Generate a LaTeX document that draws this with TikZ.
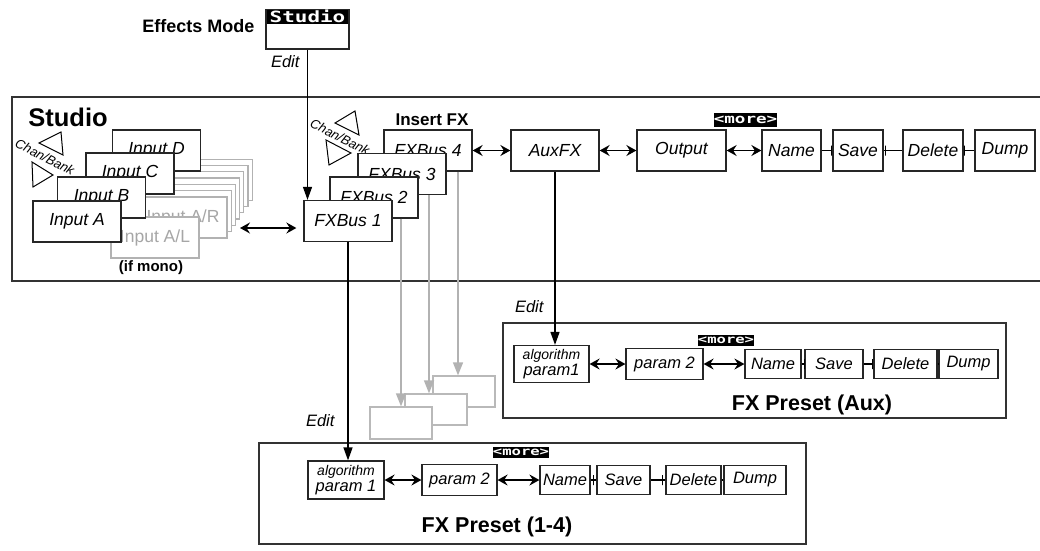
\documentclass[tikz,border=0pt]{standalone}
\usepackage{fontspec}
\setmainfont{Liberation Sans}
\newfontfamily\lcdfont[FakeStretch=1.35]{DejaVu Sans Mono}
\usepackage{tikz}
\usetikzlibrary{arrows.meta, positioning, calc}

\begin{document}
\begin{tikzpicture}[
    x=1pt, y=-1pt,
    >={Stealth[length=10pt, width=11pt, inset=3.5pt]},
    box/.style={rectangle, draw=black!85, line width=1.3pt, fill=white,
                minimum width=88pt, minimum height=41pt, inner sep=0pt,
                font=\fontsize{17.5}{20}\selectfont\itshape},
    ghost/.style={box, draw=gray!60, text=gray!70,
                  font=\fontsize{17.5}{20}\selectfont},
    ghostbox/.style={rectangle, draw=gray!55, line width=1.3pt, fill=white,
                     minimum width=62pt, minimum height=31pt},
    pbox/.style={rectangle, draw=black!85, line width=1.2pt, fill=white,
                 minimum height=29pt, inner sep=0pt,
                 font=\fontsize{16.5}{18}\selectfont\itshape},
    algbox/.style={pbox, minimum width=75pt, minimum height=37pt, align=center},
    lcd/.style={fill=black, text=white, inner sep=0pt, minimum height=11pt,
                font=\lcdfont\bfseries\fontsize{11.5}{11.5}\selectfont},
    panel/.style={draw=black!80, line width=1.2pt},
    presettitle/.style={font=\fontsize{21.5}{24}\selectfont\bfseries},
    hdr/.style={font=\fontsize{17}{19}\selectfont\bfseries},
    editlbl/.style={font=\fontsize{16.5}{18}\selectfont\itshape},
    chanlbl/.style={font=\fontsize{13}{14}\selectfont\itshape, rotate=-27},
    dbl/.style={<->, line width=1.6pt},
    editarrow/.style={line width=1.3pt, -{Triangle[length=13pt, width=9pt]}},
    grayarrow/.style={draw=gray!60, line width=1.5pt, -{Triangle[length=13pt, width=10pt]}},
    tie/.style={line width=1.1pt},
    tiemark/.style={draw, line width=1.1pt, inner sep=0pt, minimum width=0pt, minimum height=10pt}
]
\useasboundingbox (0,0) rectangle (1040,550);

\node[font=\fontsize{18}{20}\selectfont\bfseries, anchor=east] (modelbl) at (258,26) {Effects Mode};
\node[draw=black!85, line width=1.1pt, minimum width=83pt, minimum height=39pt, inner sep=0pt] (disp) at (307.5,29.5) {};
\node[lcd, font=\lcdfont\bfseries\fontsize{15.5}{15.5}\selectfont, minimum width=81pt, minimum height=14pt, anchor=north] (dispname) at (disp.north) {Studio};
\node[editlbl, anchor=east] (edit0) at (303,62) {Edit};

\draw[panel] (1040,97) -- (12,97) -- (12,281) -- (1040,281);
\node[font=\fontsize{25.5}{28}\selectfont\bfseries] (studio) at (68,117) {Studio};

\draw[line width=1pt] (39,143) -- (61,132) -- (63,155) -- cycle;
\draw[line width=1pt] (32,162) -- (53,175) -- (33,187) -- cycle;
\node[chanlbl] (chan1) at (45,157) {Chan/Bank};
\draw[line width=1pt] (335,123) -- (355,111) -- (359,135) -- cycle;
\draw[line width=1pt] (326,140) -- (351,153) -- (329,165) -- cycle;
\node[chanlbl] (chan2) at (340,137) {Chan/Bank};

\foreach \k in {6,5,4,3,2,1}
    \node[ghost] (stack\k) at (183+4.2*\k, 217.5-6.3*\k) {};
\node[ghost] (inAR) at (183,217.5) {Input A/R};
\node[ghost] (inAL) at (155,237.5) {Input A/L};
\node[box] (inD) at (156.5,150.5) {Input D};
\node[box] (inC) at (130,173.5) {Input C};
\node[box] (inB) at (101.5,197.5) {Input B};
\node[box] (inA) at (77,221.5) {Input A};
\node[hdr, font=\fontsize{15}{17}\selectfont\bfseries] (mono) at (151,268) {(if mono)};

\node[hdr] (insert) at (432,120) {Insert FX};
\node[box] (fxbus4) at (428,150.5) {FXBus 4};
\node[box] (fxbus3) at (402,174) {FXBus 3};
\node[box] (fxbus2) at (374,197.5) {FXBus 2};
\node[box] (fxbus1) at (348,221) {FXBus 1};
\node[box] (auxfx) at (555,150.5) {AuxFX};
\node[box, minimum width=89pt] (output) at (681.5,150.5) {Output};
\node[lcd, font=\lcdfont\bfseries\fontsize{13}{13}\selectfont, minimum height=14pt] (more1) at (745.5,120) {<more>};
\node[box, minimum width=59pt] (name1) at (791.5,150.5) {Name};
\node[box, minimum width=50pt] (save1) at (858,150.5) {Save};
\node[box, minimum width=60pt] (delete1) at (933,150.5) {Delete};
\node[box, minimum width=60pt] (dump1) at (1005,150.5) {Dump};

\draw[editarrow] (disp.south) -- (disp.south |- fxbus1.north);
\coordinate (mix) at (240,228);
\draw[dbl, shorten >=7pt] (mix) -- (mix -| fxbus1.west);
\draw[dbl] (fxbus4.east) -- (auxfx.west);
\draw[dbl] (auxfx.east) -- (output.west);
\draw[dbl] (output.east) -- (name1.west);
\draw[tie] (name1.east) -- (save1.west) node[tiemark, pos=0.9] {};
\draw[tie] (save1.east) -- (delete1.west) node[tiemark, pos=0.1] {};
\draw[tie] (delete1.east) -- (dump1.west) node[tiemark, pos=0.1] {};

\node[ghostbox] (g3) at (464,391.5) {};
\node[ghostbox] (g2) at (436,409.5) {};
\node[ghostbox, minimum height=32pt] (g1) at (401,423) {};
\coordinate (t1) at (g1.north);
\coordinate (t2) at ([xshift=-7pt]g2.north);
\coordinate (t3) at ([xshift=-6pt]g3.north);
\draw[grayarrow] (t1 |- fxbus2.south) -- (t1);
\draw[grayarrow] (t2 |- fxbus3.south) -- (t2);
\draw[grayarrow] (t3 |- fxbus4.south) -- (t3);

\draw[panel] (503,323) rectangle (1006,418);
\node[algbox] (alg2) at (551.5,364) {{\fontsize{14}{14}\selectfont algorithm}\\[-2pt]param1};
\node[pbox, minimum width=77pt, minimum height=31pt] (param2a) at (664.5,364) {param 2};
\node[lcd] (more2) at (726,340) {<more>};
\node[pbox, minimum width=56pt] (name2) at (773,364) {Name};
\node[pbox, minimum width=58pt] (save2) at (834,364) {Save};
\node[pbox, minimum width=63pt] (delete2) at (905.5,364) {Delete};
\node[pbox, minimum width=59pt] (dump2) at (968.5,364) {Dump};
\node[presettitle] (auxtitle) at (812,405) {FX Preset (Aux)};
\node[editlbl, anchor=east] (edit2) at (547,307) {Edit};
\draw[editarrow] (auxfx.south) -- (auxfx.south |- alg2.north);
\draw[dbl] (alg2.east) -- (param2a.west);
\draw[dbl] (param2a.east) -- (name2.west);
\draw[tie] (name2.east) -- (save2.west) node[tiemark, pos=0.9] {};
\draw[tie] (save2.east) -- (delete2.west) node[tiemark, pos=0.9] {};
\draw[tie] (delete2.east) -- (dump2.west);

\draw[panel] (259,443) rectangle (806,544);
\node[algbox, minimum width=76pt, minimum height=38pt] (alg1) at (346,480) {{\fontsize{14}{14}\selectfont algorithm}\\[-2pt]param 1};
\node[pbox, minimum width=75pt, minimum height=31pt] (param2b) at (459.5,480) {param 2};
\node[lcd] (more3) at (521,452) {<more>};
\node[pbox, minimum width=50pt] (name3) at (565,480) {Name};
\node[pbox, minimum width=53pt] (save3) at (623.5,480) {Save};
\node[pbox, minimum width=55pt] (delete3) at (693.5,480) {Delete};
\node[pbox, minimum width=62pt] (dump3) at (755,480) {Dump};
\node[presettitle] (bustitle) at (497,527) {FX Preset (1-4)};
\node[editlbl, anchor=east] (edit1) at (338,421) {Edit};
\draw[editarrow] (fxbus1.south) -- (fxbus1.south |- alg1.north);
\draw[dbl] (alg1.east) -- (param2b.west);
\draw[dbl] (param2b.east) -- (name3.west);
\draw[tie] (name3.east) -- (save3.west) node[tiemark, pos=0.5] {};
\draw[tie] (save3.east) -- (delete3.west) node[tiemark, pos=0.8] {};
\draw[tie] (delete3.east) -- (dump3.west);
\end{tikzpicture}
\end{document}
